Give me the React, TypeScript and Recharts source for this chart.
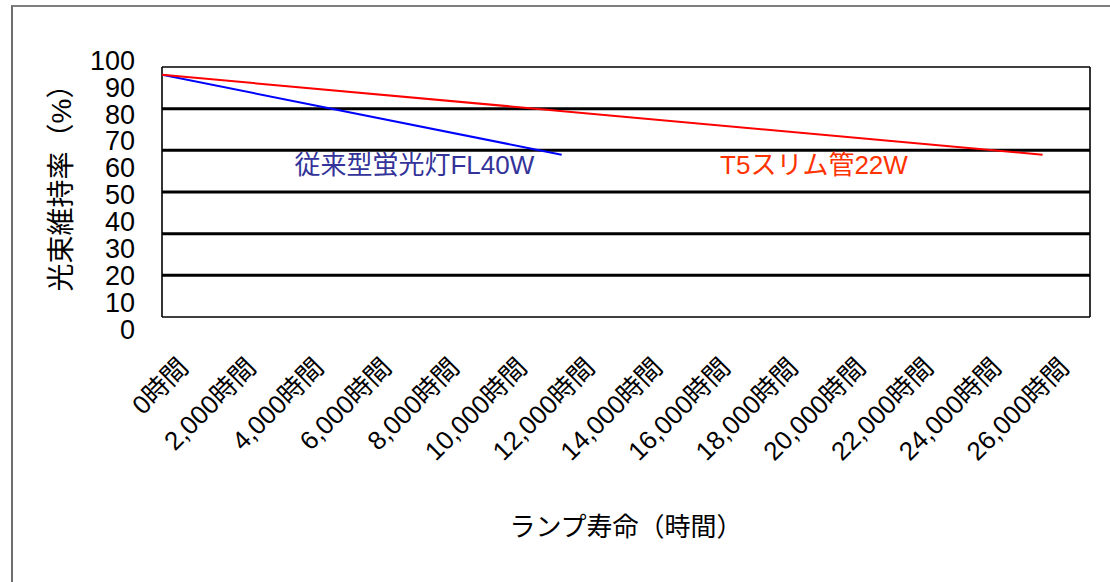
import {
  CartesianGrid,
  Label,
  Line,
  LineChart,
  ReferenceDot,
  XAxis,
  YAxis,
} from 'recharts';

const FONT = "'Liberation Sans', 'Noto Sans CJK JP', sans-serif";

// x axis: lamp hours
const hourTicks = [0, 2000, 4000, 6000, 8000, 10000, 12000, 14000, 16000, 18000, 20000, 22000, 24000, 26000];
const hourLabels = [
  '0時間', '2,000時間', '4,000時間', '6,000時間', '8,000時間', '10,000時間', '12,000時間',
  '14,000時間', '16,000時間', '18,000時間', '20,000時間', '22,000時間', '24,000時間', '26,000時間',
];

// y axis labels (%)
const pctTicks = [0, 10, 20, 30, 40, 50, 60, 70, 80, 90, 100];

// series
const fl40Hours = [0, 11800];
const fl40Values = [94.5, 64.8];
const t5Hours = [0, 26000];
const t5Values = [94.5, 64.8];

const seriesNames = ['従来型蛍光灯FL40W', 'T5スリム管22W'];

const fl40Data = fl40Hours.map((h, i) => ({ h, v: fl40Values[i] }));
const t5Data = t5Hours.map((h, i) => ({ h, v: t5Values[i] }));

// plot is split in 6 bands by the thick rules
const BANDS = 6;

function YTick(props: any) {
  const { x, y, payload } = props;
  return (
    <text x={x} y={y} dy="0.36em" textAnchor="end" fontSize={27} fill="#000" fontFamily={FONT}>
      {payload.value}
    </text>
  );
}

function XTick(props: any) {
  const { x, y, payload } = props;
  const idx = hourTicks.indexOf(payload.value);
  const ax = x + 28;
  const ay = y + 44;
  return (
    <text
      x={ax}
      y={ay}
      textAnchor="end"
      fontSize={26}
      fill="#000"
      fontFamily={FONT}
      transform={`rotate(-45 ${ax} ${ay})`}
    >
      {hourLabels[idx]}
    </text>
  );
}

export default function App() {
  return (
    <div style={{ position: 'absolute', left: 0, top: 0, width: 1110, height: 582, background: '#fff' }}>
      <div
        style={{
          position: 'absolute',
          left: 11,
          top: 5,
          right: 0,
          bottom: 0,
          borderLeft: '2px solid #6e6e6e',
          borderTop: '2px solid #7f7f7f',
        }}
      />
      <div style={{ position: 'absolute', left: 0, top: 0 }}>
        <LineChart width={1110} height={582} margin={{ top: 67, right: 20, bottom: 0, left: 0 }}>
          {/* thick inner rules */}
          <CartesianGrid
            vertical={false}
            stroke="#000"
            strokeWidth={3}
            horizontalCoordinatesGenerator={({ offset }: any) =>
              Array.from({ length: BANDS - 1 }, (_, k) => offset.top + (offset.height * (k + 1)) / BANDS)
            }
          />
          {/* thin frame */}
          <CartesianGrid
            stroke="#000"
            strokeWidth={1.6}
            horizontalCoordinatesGenerator={({ offset }: any) => [offset.top, offset.top + offset.height]}
            verticalCoordinatesGenerator={({ offset }: any) => [offset.left, offset.left + offset.width]}
          />
          <XAxis
            type="number"
            dataKey="h"
            domain={[0, 27400]}
            ticks={hourTicks}
            interval={0}
            allowDataOverflow
            height={265}
            axisLine={false}
            tickLine={false}
            tick={<XTick />}
          >
            <Label
              content={() => (
                <text x={626} y={536} textAnchor="middle" fontSize={26} fill="#000" fontFamily={FONT}>
                  ランプ寿命（時間）
                </text>
              )}
            />
          </XAxis>
          <YAxis
            type="number"
            dataKey="v"
            domain={[4.46, 97.4]}
            ticks={pctTicks}
            interval={0}
            allowDataOverflow
            width={162}
            axisLine={false}
            tickLine={false}
            tickSize={0}
            tickMargin={27}
            tick={<YTick />}
          >
            <Label
              content={() => (
                <text
                  x={61}
                  y={181}
                  textAnchor="middle"
                  dominantBaseline="central"
                  fontSize={28}
                  fill="#000"
                  fontFamily={FONT}
                  transform="rotate(-90 61 181)"
                >
                  光束維持率（%）
                </text>
              )}
            />
          </YAxis>
          <Line
            data={fl40Data}
            dataKey="v"
            stroke="#0000ff"
            strokeWidth={2}
            dot={false}
            isAnimationActive={false}
          />
          <Line
            data={t5Data}
            dataKey="v"
            stroke="#ff0000"
            strokeWidth={2}
            dot={false}
            isAnimationActive={false}
          />
          <ReferenceDot
            x={7450}
            y={61}
            r={0}
            stroke="none"
            label={{ value: seriesNames[0], position: 'center', fill: '#333399', fontSize: 26, fontFamily: FONT }}
          />
          <ReferenceDot
            x={19250}
            y={61}
            r={0}
            stroke="none"
            label={{ value: seriesNames[1], position: 'center', fill: '#ff3300', fontSize: 26, fontFamily: FONT }}
          />
        </LineChart>
      </div>
    </div>
  );
}
